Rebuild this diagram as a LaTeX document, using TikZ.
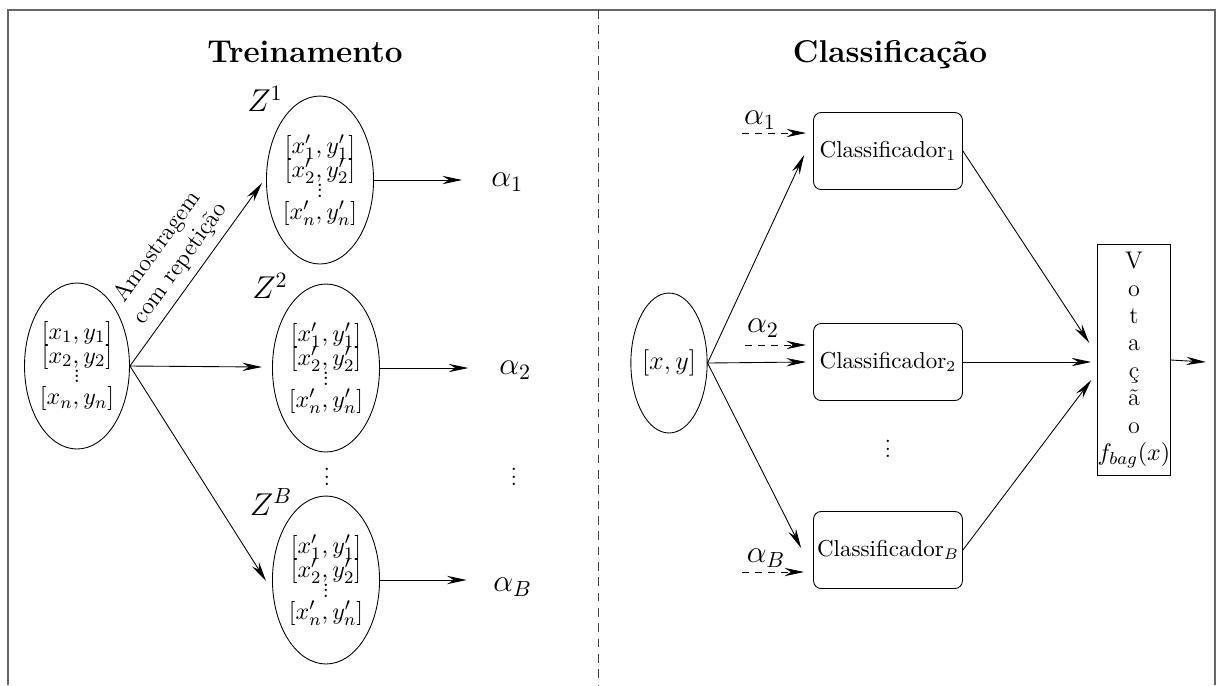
\documentclass[tikz,border=0pt]{standalone}
\usetikzlibrary{shapes.geometric,arrows.meta,calc}
\newcommand\dotcol[1]{\vbox{\baselineskip#1\lineskiplimit0pt\hbox{.}\hbox{.}\hbox{.}}}
\newcommand\pairs[2]{$[#1_1,#2_1]$\\[-1pt]$[#1_2,#2_2]$\\[-3pt]\dotcol{2.5pt}\\[-2pt]$[#1_n,#2_n]$}
\tikzset{
  arr/.style={-{Stealth[length=9pt,width=3.8pt,inset=3pt]}},
  darr/.style={arr, dashed},
  srcell/.style={draw, ellipse, inner sep=0pt, minimum width=45.7pt, minimum height=75.8pt, align=center, font=\fontsize{11}{12}\selectfont},
  samp/.style={draw, ellipse, inner sep=0pt, minimum width=48.9pt, minimum height=76.7pt, align=center, font=\fontsize{11}{12}\selectfont},
  xyell/.style={draw, ellipse, inner sep=0pt, minimum width=33.8pt, minimum height=63.9pt, font=\fontsize{11.5}{13}\selectfont},
  clf/.style={draw, rounded corners=3.5pt, minimum width=68pt, minimum height=35.2pt, inner sep=0pt, font=\fontsize{10.5}{12}\selectfont},
  vot/.style={draw, minimum width=32.9pt, minimum height=105.5pt, inner sep=0pt, align=center, font=\fontsize{11}{12.5}\selectfont},
  ttl/.style={font=\Large\bfseries, anchor=base},
  zlab/.style={font=\Large, inner sep=0pt},
  alab/.style={font=\Large, inner sep=0pt},
  framec/.style={draw=black!60, line width=1.1pt},
}
\begin{document}
\begin{tikzpicture}[x=0.4566pt, y=-0.4566pt]
\useasboundingbox (0,0) rectangle (1218,685);
% frame
\draw[framec] (8,685) -- (8,10) -- (1215,10) -- (1215,685);
\draw[black!75, dash pattern=on 4pt off 3pt] (598,10) -- (598,685);
% titles
\node[ttl] (t1) at (305,62) {Treinamento};
\node[ttl] (t2) at (890,62) {Classificação};
% ---------- training ----------
\node[srcell] (src) at (77,366) {\pairs{x}{y}};
\node[samp] (z1) at (320,180) {\pairs{x'}{y'}};
\node[samp] (z2) at (326,368) {\pairs{x'}{y'}};
\node[samp] (zB) at (326,580) {\pairs{x'}{y'}};
\node[zlab] (zl1) at (265,99) {$Z^1$};
\node[zlab] (zl2) at (270,286) {$Z^2$};
\node[zlab] (zlB) at (271,502) {$Z^B$};
\node[inner sep=0pt] (vl) at (327,477) {\dotcol{3.4pt}};
\node[inner sep=0pt] (vr) at (514,477) {\dotcol{3.4pt}};
\node[alab, anchor=west] (a1) at (491,182) {$\alpha_1$};
\node[alab, anchor=west] (a2) at (499,370) {$\alpha_2$};
\node[alab, anchor=west] (aB) at (493,587) {$\alpha_B$};
\draw[arr] (src.east) -- node[midway, above, sloped, align=center, font=\fontsize{11}{13}\selectfont] {Amostragem\\com repetição} ($(z1.west)+(-4,3)$);
\draw[arr] (src.east) -- ($(z2.west)+(-10,-1)$);
\draw[arr] (src.east) -- ($(zB.west)+(-6,1)$);
\draw[arr, shorten >=13.2pt] (z1.east) -- (z1.east -| a1.west);
\draw[arr, shorten >=14pt] (z2.east) -- (z2.east -| a2.west);
\draw[arr, shorten >=12pt] (zB.east) -- (zB.east -| aB.west);
% ---------- classification ----------
\node[xyell] (xy) at (669,363) {$[x,y]$};
\node[clf] (c1) at (888,151) {Classificador$_1$};
\node[clf] (c2) at (888,362) {Classificador$_2$};
\node[clf] (cB) at (888,550) {Classificador$_B$};
\node[inner sep=0pt] (vc) at (888,449) {\dotcol{3.4pt}};
\node[vot] (vot) at (1134,360) {V\\o\\t\\a\\ç\\ã\\o\\$f_{bag}(x)$};
\coordinate (out) at (1206,362);
\node[alab] (b1) at (760,120) {$\alpha_1$};
\node[alab] (b2) at (763,328) {$\alpha_2$};
\node[alab] (bB) at (766,558) {$\alpha_B$};
\coordinate (d1) at (742,133);
\coordinate (d2) at (745,345);
\coordinate (dB) at (742,572);
\draw[darr] (d1) -- ($(c1.west)+(-7,-18)$);
\draw[darr] (d2) -- ($(c2.west)+(-7,-17)$);
\draw[darr] (dB) -- ($(cB.west)+(-9,22)$);
\draw[arr] (xy.east) -- ($(c1.west)+(-9,4)$);
\draw[arr] (xy.east) -- ($(c2.west)+(-7,0)$);
\draw[arr] (xy.east) -- ($(cB.west)+(-12,-2)$);
\draw[arr] (c1.east) -- ($(vot.west)+(-8,-17)$);
\draw[arr] (c2.east) -- ($(vot.west)+(-6,2)$);
\draw[arr] (cB.east) -- ($(vot.west)+(-6,20)$);
\draw[arr] (vot.east) -- (out);
\end{tikzpicture}
\end{document}
